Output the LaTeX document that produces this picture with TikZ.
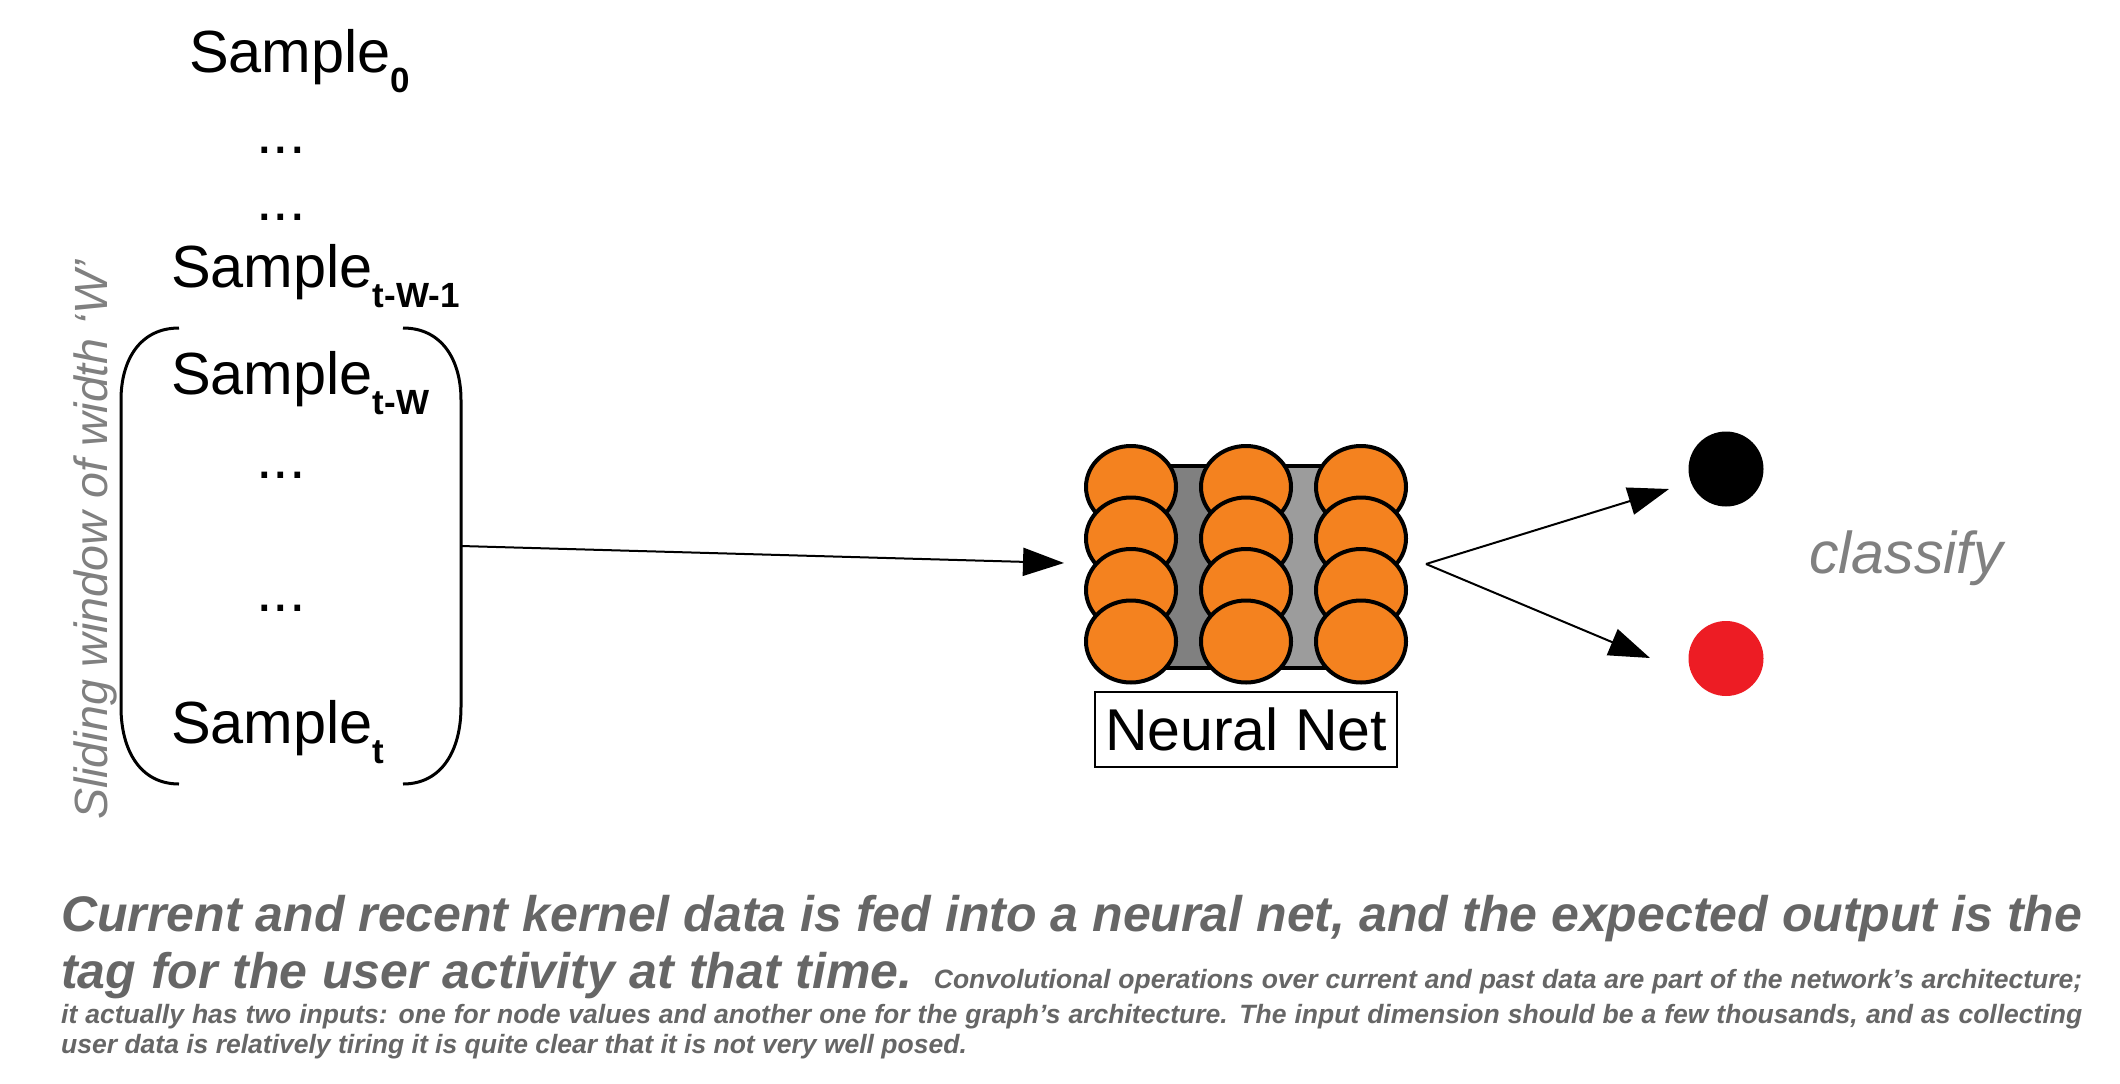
\documentclass[tikz,border=0pt]{standalone}
\usepackage{fontspec}
\setmainfont{Liberation Sans}
\usetikzlibrary{arrows.meta,shapes.geometric}
\definecolor{nnorange}{HTML}{F4821F}
\definecolor{txtgray}{HTML}{666666}
\definecolor{lblgray}{HTML}{808080}
\definecolor{dotred}{HTML}{ED1C24}
\definecolor{darkg}{HTML}{808080}
\definecolor{lightg}{HTML}{9C9C9C}
\newcommand{\smpl}[1]{Sample\raisebox{-20pt}{\fontsize{35}{35}\selectfont\bfseries #1}}
\newcommand{\bigtx}{\fontsize{50}{57}\selectfont\bfseries\itshape}
\newcommand{\smalltx}{\fontsize{26.5}{30}\selectfont\bfseries\itshape}
\begin{document}
\begin{tikzpicture}[x=1pt,y=-1pt,
  smptext/.style={anchor=base west,inner sep=0pt,font=\fontsize{59.5}{60}\selectfont},
  dotstext/.style={anchor=base,inner sep=0pt,font=\fontsize{59.5}{60}\selectfont},
  neuron/.style={ellipse,draw=black,line width=4pt,fill=nnorange,minimum width=90pt,minimum height=82pt,inner sep=0pt},
  outdot/.style={circle,minimum size=75pt,inner sep=0pt},
  arr/.style={line width=2pt,-{Triangle[length=41pt,width=28pt]}},
  brkline/.style={line width=3pt},
  bodytx/.style={anchor=base west,inner sep=0pt,text=txtgray},
  gray label/.style={text=lblgray,inner sep=0pt}
]
\useasboundingbox (0,0) rectangle (2120,1084);
\fill[white] (0,0) rectangle (2120,1084);

% samples
\node[smptext] (s0) at (189,72) {\smpl{0}};
\node[dotstext] (d1) at (281,153) {...};
\node[dotstext] (d2) at (281,220) {...};
\node[smptext] (s1) at (171,287) {\smpl{t-W-1}};
\node[smptext] (s2) at (171,394) {\smpl{t-W}};
\node[dotstext] (d3) at (281,478) {...};
\node[dotstext] (d4) at (281,611) {...};
\node[smptext] (s3) at (171,743) {\smpl{t}};

% window brackets
\draw[brkline] (179,328) .. controls (140,328) and (121,360) .. (121,400) -- (121,707) .. controls (121,750) and (140,784) .. (179,784);
\draw[brkline] (403,328) .. controls (442,328) and (461,360) .. (461,400) -- (461,707) .. controls (461,750) and (442,784) .. (403,784);

\node[gray label,rotate=90,anchor=base west,font=\fontsize{46.6}{50}\selectfont\itshape] (slide) at (107,820) {Sliding window of width ‘W’};

% neural net
\filldraw[fill=darkg,draw=black,line width=4pt] (1131,466) rectangle (1246,668);
\filldraw[fill=lightg,draw=black,line width=4pt] (1246,466) rectangle (1361,668);
\foreach \r/\yy in {1/487,2/538.5,3/590,4/641.5}{
  \foreach \c/\xx in {1/1131,2/1246,3/1361}{
    \node[neuron] (n\c\r) at (\xx,\yy) {};
  }
}
\node[draw=black,line width=1.5pt,minimum width=302pt,minimum height=75pt,inner sep=0pt,font=\fontsize{59}{60}\selectfont] (nnlabel) at (1246,729.5) {Neural Net};

% outputs
\node[outdot,fill=black] (o1) at (1726,469) {};
\node[outdot,fill=dotred] (o2) at (1726,658.5) {};
\node[gray label,anchor=base west,font=\fontsize{59}{60}\selectfont\itshape] (cls) at (1809,573) {classify};

% connectors
\coordinate (win) at (461,546);
\coordinate (nnin) at (1064,563);
\coordinate (nnout) at (1426,564);
\coordinate (t1) at (1669,489);
\coordinate (t2) at (1650,658);
\draw[arr] (win) -- (nnin);
\draw[arr] (nnout) -- (t1);
\draw[arr] (nnout) -- (t2);

% caption
\node[bodytx] (c1) at (61,931) {\makebox[2021pt][s]{\bigtx Current and recent kernel data is fed into a neural net, and the expected output is the}};
\node[bodytx] (c2) at (61,988) {\makebox[2021pt][s]{\bigtx tag for the user activity at that time. \smalltx Convolutional operations over current and past data are part of the network’s architecture;}};
\node[bodytx] (c3) at (61,1023) {\makebox[2021pt][s]{\smalltx it actually has two inputs: one for node values and another one for the graph’s architecture. The input dimension should be a few thousands, and as collecting}};
\node[bodytx] (c4) at (61,1053) {\smalltx user data is relatively tiring it is quite clear that it is not very well posed.};
\end{tikzpicture}
\end{document}
